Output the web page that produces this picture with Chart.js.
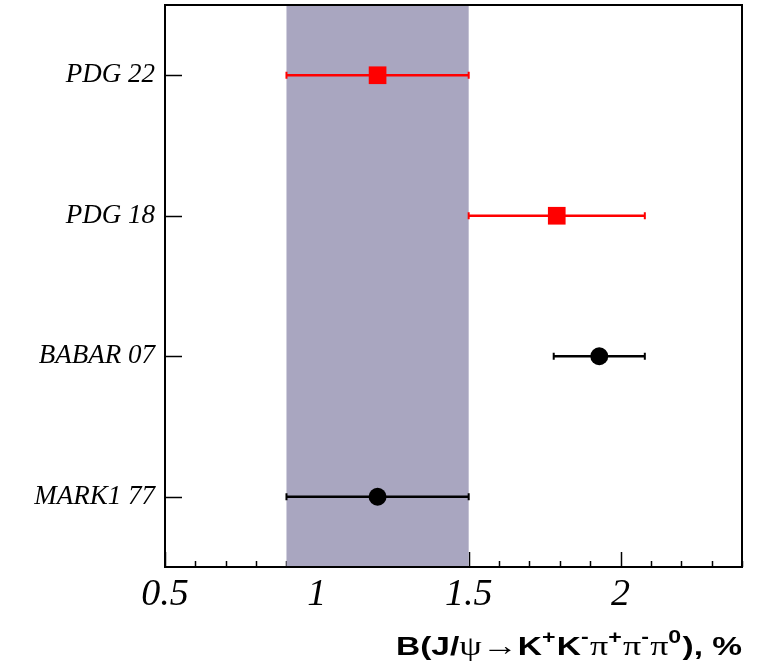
<!DOCTYPE html>
<html>
<head>
<meta charset="utf-8">
<script src="https://cdn.jsdelivr.net/npm/chart.js@4"></script>
<style>
  html, body { margin: 0; padding: 0; background: #fff; }
  #wrap { width: 769px; height: 669px; }
</style>
</head>
<body>
<div id="wrap"><canvas id="chart"></canvas></div>
<script>
// measurements, bottom to top
const expNames = ['MARK1 77', 'BABAR 07', 'PDG 18', 'PDG 22'];
const expValues = [1.20, 1.93, 1.79, 1.20];
const expErrMinus = [0.30, 0.15, 0.29, 0.30];
const expErrPlus = [0.30, 0.15, 0.29, 0.30];
const expIsPdg = [false, false, true, true];

// shaded band (PDG 22 range)
const bandLow = 0.9;
const bandHigh = 1.5;

// x axis
const xMin = 0.5;
const xMax = 2.4;
const xTickValues = [0.5, 0.6, 0.7, 0.8, 0.9, 1.0, 1.1, 1.2, 1.3, 1.4, 1.5, 1.6, 1.7, 1.8, 1.9, 2.0, 2.1, 2.2, 2.3, 2.4];
const xMajorLabels = { '0.5': '0.5', '1': '1', '1.5': '1.5', '2': '2' };

// axis title pieces: [text, kind]  kind: s = sans bold, g = greek/symbol, u = superscript
const xTitleParts = [
    ['B(J/', 's'], ['\u03c8', 'g'], ['\u2192', 'g'], ['K', 's'], ['+', 'u'], ['K', 's'], ['-', 'u'],
    ['\u03c0', 'g'], ['+', 'u'], ['\u03c0', 'g'], ['-', 'u'], ['\u03c0', 'g'], ['0', 'u'], ['), %', 's']
];

const points = expValues.map((v, i) => ({ x: v, y: i + 1 }));
const colors = expIsPdg.map(p => p ? '#ff0000' : '#000000');

const titleFonts = {
    s: 'bold 26px "Liberation Sans"',
    g: '28px "Liberation Serif"',
    u: 'bold 18px "Liberation Sans"'
};

function noPad(s) {
    s.paddingTop = 0;
    s.paddingBottom = 0;
    s.paddingLeft = 0;
    s.paddingRight = 0;
}

const framePlugin = {
    id: 'frame',
    beforeDatasetsDraw(chart) {
        const { ctx, chartArea: a, scales: { x, y } } = chart;
        ctx.save();
        ctx.strokeStyle = '#000';
        ctx.lineWidth = 1.5;
        // x ticks pointing inward
        xTickValues.forEach(v => {
            const px = Math.round(x.getPixelForValue(v)) + 0.5;
            const major = xMajorLabels[String(+v.toFixed(1))] !== undefined;
            const len = major ? 15 : 6;
            ctx.beginPath();
            ctx.moveTo(px, a.bottom);
            ctx.lineTo(px, a.bottom - len);
            ctx.stroke();
        });
        // y ticks
        expNames.forEach((n, i) => {
            const py = Math.round(y.getPixelForValue(i + 1)) + 0.5;
            ctx.beginPath();
            ctx.moveTo(a.left, py);
            ctx.lineTo(a.left + 17, py);
            ctx.stroke();
        });
        // band
        const bx0 = x.getPixelForValue(bandLow);
        const bx1 = x.getPixelForValue(bandHigh);
        ctx.fillStyle = '#a9a6c0';
        ctx.fillRect(bx0, a.top, bx1 - bx0, a.bottom - a.top - 1);
        // frame
        ctx.lineWidth = 2;
        ctx.strokeStyle = '#000';
        ctx.beginPath();
        ctx.moveTo(a.left, a.top);
        ctx.lineTo(a.right, a.top);
        ctx.lineTo(a.right, a.bottom);
        ctx.lineTo(a.left, a.bottom);
        ctx.closePath();
        ctx.stroke();
        // error bars
        expValues.forEach((v, i) => {
            const py = y.getPixelForValue(i + 1);
            const x0 = x.getPixelForValue(v - expErrMinus[i]);
            const x1 = x.getPixelForValue(v + expErrPlus[i]);
            ctx.strokeStyle = colors[i];
            ctx.lineWidth = 2.5;
            ctx.beginPath();
            ctx.moveTo(x0, py);
            ctx.lineTo(x1, py);
            ctx.stroke();
            ctx.lineWidth = 2;
            ctx.beginPath();
            ctx.moveTo(x0, py - 3.5);
            ctx.lineTo(x0, py + 3.5);
            ctx.moveTo(x1, py - 3.5);
            ctx.lineTo(x1, py + 3.5);
            ctx.stroke();
        });
        ctx.restore();
    },
    afterDraw(chart) {
        const { ctx, chartArea: a, scales: { x } } = chart;
        ctx.save();
        ctx.fillStyle = '#000';
        // x tick labels (italic serif)
        ctx.font = 'italic 38px "Liberation Serif"';
        ctx.textAlign = 'center';
        ctx.textBaseline = 'alphabetic';
        xTickValues.forEach(v => {
            const lab = xMajorLabels[String(+v.toFixed(1))];
            if (lab) ctx.fillText(lab, x.getPixelForValue(v), a.bottom + 38);
        });
        // x axis title, right aligned to the frame
        ctx.textAlign = 'left';
        let total = 0;
        const widths = xTitleParts.map(([t, k]) => {
            ctx.font = titleFonts[k];
            const w = ctx.measureText(t).width + (k === 'u' ? 1 : 0);
            total += w;
            return w;
        });
        const targetWidth = 346;
        const sx = targetWidth / total;
        ctx.translate(a.right - targetWidth, chart.height - 14);
        ctx.scale(sx, 1);
        let cx = 0;
        xTitleParts.forEach(([t, k], i) => {
            ctx.font = titleFonts[k];
            ctx.fillText(t, cx, k === 'u' ? -12 : 0);
            cx += widths[i];
        });
        ctx.restore();
    }
};

new Chart(document.getElementById('chart'), {
    type: 'scatter',
    data: {
        datasets: [{
            data: points,
            pointStyle: expIsPdg.map(p => p ? 'rect' : 'circle'),
            pointRadius: expIsPdg.map(p => p ? 12.5 : 9),
            pointHoverRadius: expIsPdg.map(p => p ? 12.5 : 9),
            backgroundColor: colors,
            borderColor: colors,
            borderWidth: 0,
            clip: false
        }]
    },
    options: {
        responsive: true,
        maintainAspectRatio: false,
        animation: false,
        events: [],
        layout: { autoPadding: false, padding: { top: 5, right: 27, left: 0, bottom: 0 } },
        plugins: { legend: { display: false }, tooltip: { enabled: false } },
        scales: {
            x: {
                type: 'linear',
                min: xMin,
                max: xMax,
                afterBuildTicks: s => { s.ticks = xTickValues.map(v => ({ value: v })); },
                afterFit: s => { s.height = 102; noPad(s); },
                grid: { display: false, drawTicks: false },
                border: { display: false },
                ticks: { display: false }
            },
            y: {
                type: 'linear',
                min: 0.5,
                max: 4.5,
                afterBuildTicks: s => { s.ticks = expNames.map((n, i) => ({ value: i + 1 })); },
                afterFit: s => { s.width = 165; noPad(s); },
                grid: { display: false, drawTicks: false },
                border: { display: false },
                ticks: {
                    padding: 10,
                    color: '#000',
                    font: { family: 'Liberation Serif', size: 27, style: 'italic' },
                    callback: v => expNames[Math.round(v) - 1] || ''
                }
            }
        }
    },
    plugins: [framePlugin]
});
</script>
</body>
</html>
